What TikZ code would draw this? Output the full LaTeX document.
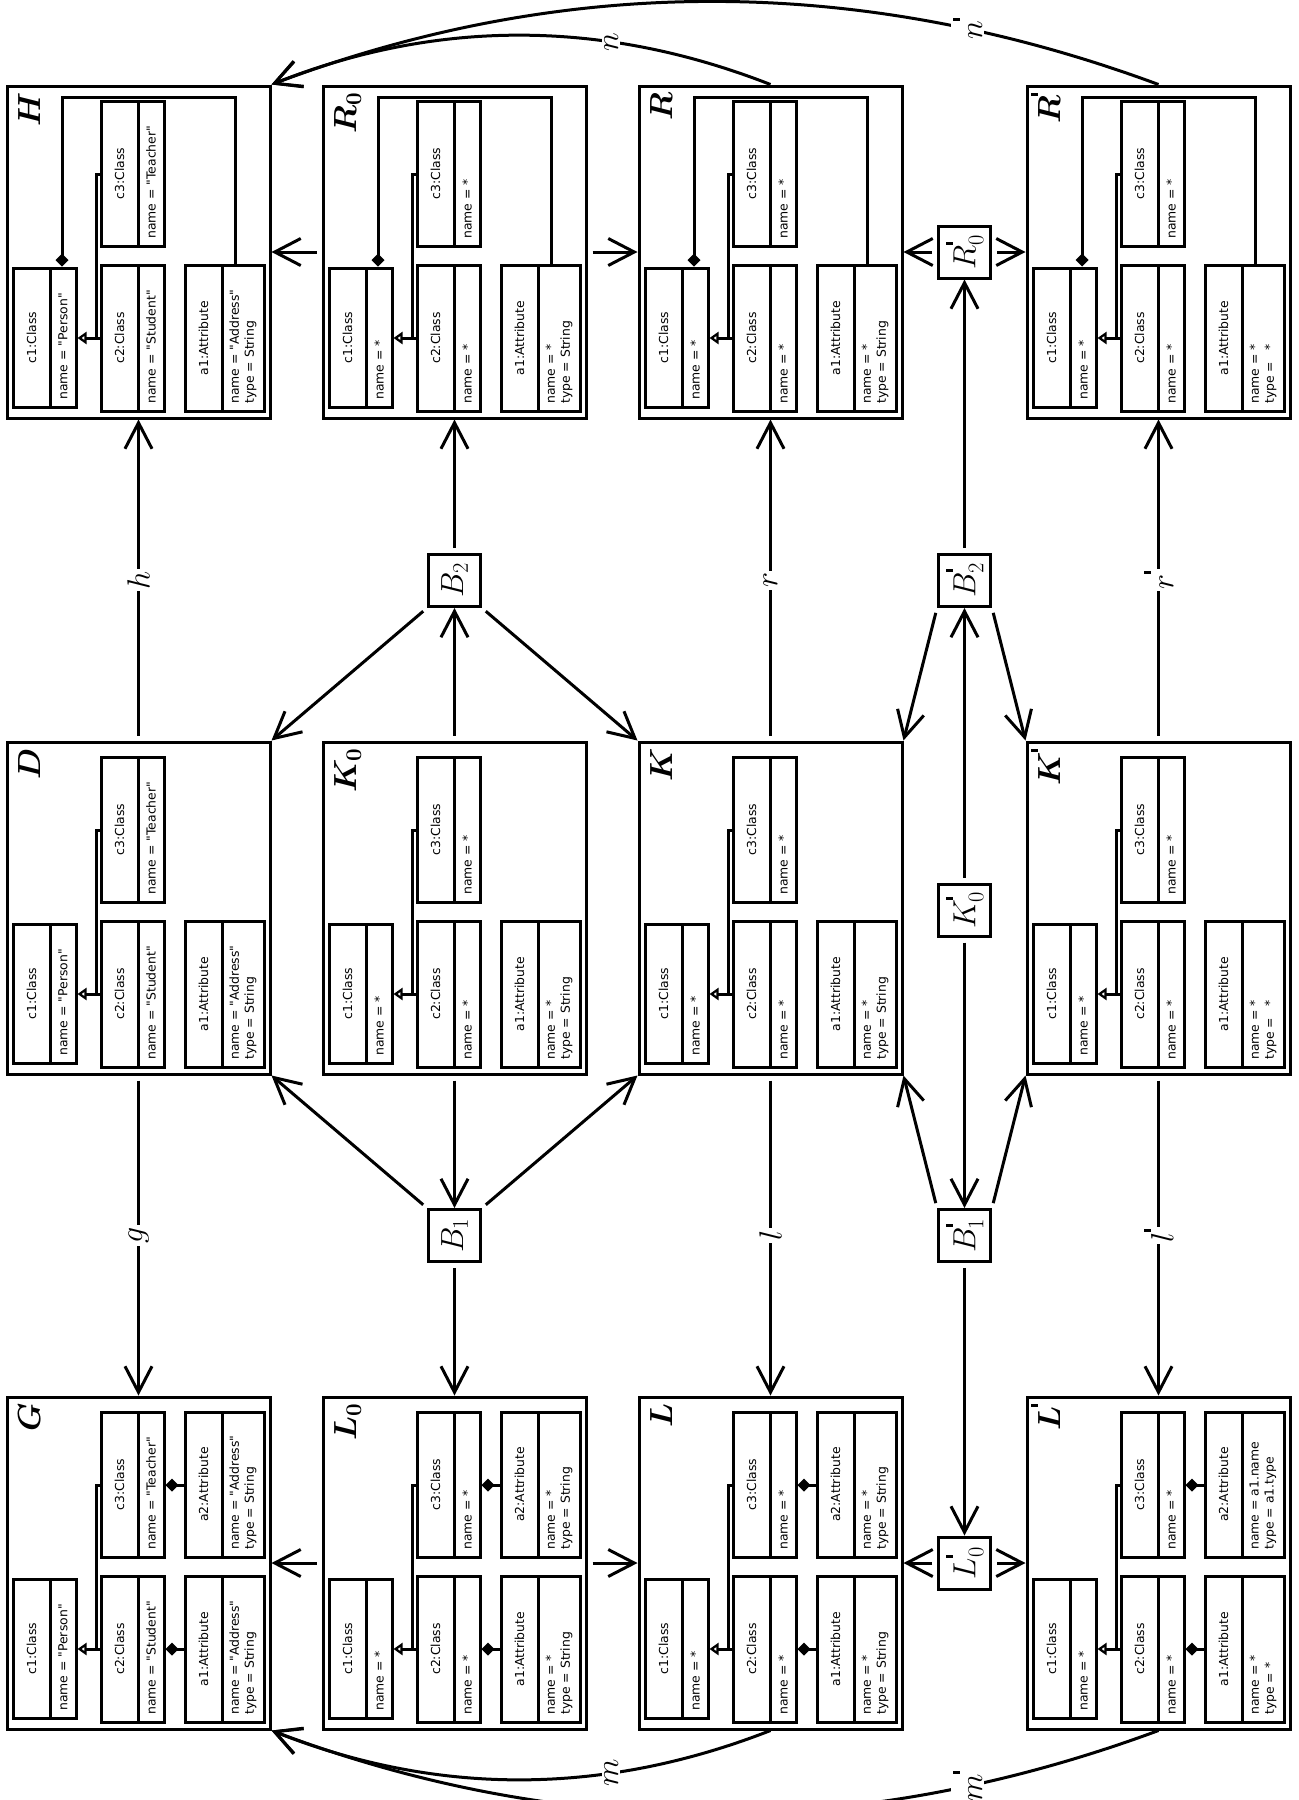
\RequirePackage{fix-cm}
\documentclass[tikz,border=0pt]{standalone}
\usepackage{amsmath}
\usepackage{bm}
\usepackage{graphicx}
\usepackage{fontspec}
\setsansfont{DejaVu Sans}[Ligatures=TeXOff]
\usetikzlibrary{arrows.meta}
\newcommand\pr{\rule[11pt]{3pt}{7pt}}
\newcommand\uclass[8]{%
  \draw[ubox] (#2,#5) rectangle (#4,#6) (#3,#5) -- (#3,#6);
  \node[utxt] (#1h) at ({(#2+#3)/2},{(#5+#6)/2}) {#7};
  \node[utxt,anchor=west,align=left] (#1b) at ({(#3+#4)/2},{#6-7}) {#8};}
\newcommand\gbox[8]{%
  \node[mainbox] (#1) at (#2+131.5,#3+166) {};
  \begin{scope}[shift={(#2,#3)}]
    \node[blabel] (#1-lab) at (11,6) {$#4$};
    \uclass{#1-c1}{6}{43}{69}{182}{321}{c1:Class}{#5}
    \uclass{#1-c2}{94}{131}{157}{179}{325}{c2:Class}{#6}
    \uclass{#1-c3}{94}{131}{157}{15}{160}{c3:Class}{#7}
    \uclass{#1-a1}{178}{215}{257}{179}{325}{a1:Attribute}{#8}
    \draw[ln] (94,88) -| (89,252);
    \draw[inh] (94,252) -- (70.5,252);
  \end{scope}}
\newcommand\topcomp[3]{%
  \begin{scope}[shift={(#2,#3)}]
    \draw[comp] (228,177.5) |- (55,11) -- (55,180.5);
  \end{scope}}
\newcommand\sidecomp[4]{%
  \begin{scope}[shift={(#2,#3)}]
    \uclass{#1-a2}{178}{215}{257}{15}{160}{a2:Attribute}{#4}
    \draw[comp] (176.5,252) -- (158.5,252);
    \draw[comp] (176.5,88) -- (158.5,88);
  \end{scope}}
\tikzset{
  mainbox/.style={draw, line width=3pt, minimum width=263pt, minimum height=332pt, inner sep=0pt},
  ubox/.style={line width=3pt},
  ln/.style={line width=3pt},
  utxt/.style={rotate=90, inner sep=0pt, font=\sffamily\fontsize{12.4}{15}\selectfont},
  blabel/.style={rotate=90, anchor=north east, inner sep=0pt, text height=22pt, font=\fontsize{32}{32}\selectfont},
  inh/.style={line width=3pt, -{Triangle[open, length=9pt, width=12pt]}},
  comp/.style={line width=3pt, -{Diamond[length=13pt, width=13pt]}},
  arr/.style={line width=3pt, -{Straight Barb[length=26pt, width=27pt]}, shorten <=5pt},
  bnode/.style={draw, line width=3pt, minimum size=52pt, inner sep=0pt, font=\fontsize{32}{32}\selectfont},
  elbl/.style={fill=white, rotate=90, inner sep=2pt, font=\fontsize{32}{32}\selectfont},
}
\begin{document}
\begin{tikzpicture}[x=1pt,y=-1pt]
\useasboundingbox (0,0) rectangle (1299,1800);
\fill[white] (0,0) rectangle (1299,1800);
\clip (0,0) rectangle (1299,1800);
% top row
\gbox{H}{7}{86}{\bm{H}}{name = "Person"}{name = "Student"}{name = "Teacher"}{name = "Address"\\type = String}
\topcomp{H}{7}{86}
\gbox{R0}{323}{86}{\bm{R}_{\bm{0}}}{name = *}{name = *}{name = *}{name = *\\type = String}
\topcomp{R0}{323}{86}
\gbox{R}{639}{86}{\bm{R}}{name = *}{name = *}{name = *}{name = *\\type = String}
\topcomp{R}{639}{86}
\gbox{Rp}{1027}{86}{\bm{R}^{\pr}}{name = *}{name = *}{name = *}{name = *\\type = \hspace{0.6em}*}
\topcomp{Rp}{1027}{86}
% middle row
\gbox{D}{7}{742}{\bm{D}}{name = "Person"}{name = "Student"}{name = "Teacher"}{name = "Address"\\type = String}
\gbox{K0}{323}{742}{\bm{K}_{\bm{0}}}{name = *}{name = *}{name = *}{name = *\\type = String}
\gbox{K}{639}{742}{\bm{K}}{name = *}{name = *}{name = *}{name = *\\type = String}
\gbox{Kp}{1027}{742}{\bm{K}^{\pr}}{name = *}{name = *}{name = *}{name = *\\type = \hspace{0.6em}*}
% bottom row
\gbox{G}{7}{1397}{\bm{G}}{name = "Person"}{name = "Student"}{name = "Teacher"}{name = "Address"\\type = String}
\sidecomp{G}{7}{1397}{name = "Address"\\type = String}
\gbox{L0}{323}{1397}{\bm{L}_{\bm{0}}}{name = *}{name = *}{name = *}{name = *\\type = String}
\sidecomp{L0}{323}{1397}{name = *\\type = String}
\gbox{L}{639}{1397}{\bm{L}}{name = *}{name = *}{name = *}{name = *\\type = String}
\sidecomp{L}{639}{1397}{name = *\\type = String}
\gbox{Lp}{1027}{1397}{\bm{L}^{\pr}}{name = *}{name = *}{name = *}{name = *\\type = *}
\sidecomp{Lp}{1027}{1397}{name = a1.name\\type = a1.type}
% small boxes
\node[bnode] (B2) at (454.5,580.5) {\rotatebox{90}{$B_2$}};
\node[bnode] (B1) at (454.5,1235.5) {\rotatebox{90}{$B_1$}};
\node[bnode] (Rp0) at (964.5,252) {\rotatebox{90}{$R^{\pr}_0$}};
\node[bnode] (Bp2) at (964.5,580.5) {\rotatebox{90}{$B^{\pr}_2$}};
\node[bnode] (Kp0) at (964.5,910) {\rotatebox{90}{$K^{\pr}_0$}};
\node[bnode] (Bp1) at (964.5,1235.5) {\rotatebox{90}{$B^{\pr}_1$}};
\node[bnode] (Lp0) at (964.5,1563) {\rotatebox{90}{$L^{\pr}_0$}};
% vertical connectors
\draw[arr] (D.north) -- node[elbl]{$h$} (H.south);
\draw[arr] (D.south) -- node[elbl]{$g$} (G.north);
\draw[arr] (K.north) -- node[elbl]{$r$} (R.south);
\draw[arr] (K.south) -- node[elbl]{$l$} (L.north);
\draw[arr] (Kp.north) -- node[elbl]{$r^{\pr}$} (Rp.south);
\draw[arr] (Kp.south) -- node[elbl]{$l^{\pr}$} (Lp.north);
\draw[arr] (K0.north) -- (B2.south);
\draw[arr] (B2.north) -- (R0.south);
\draw[arr] (K0.south) -- (B1.north);
\draw[arr] (B1.south) -- (L0.north);
\draw[arr] (B2.south west) -- (D.north east);
\draw[arr] (B2.south east) -- (K.north west);
\draw[arr] (B1.north west) -- (D.south east);
\draw[arr] (B1.north east) -- (K.south west);
\draw[arr] (Kp0.north) -- (Bp2.south);
\draw[arr] (Bp2.north) -- (Rp0.south);
\draw[arr] (Kp0.south) -- (Bp1.north);
\draw[arr] (Bp1.south) -- (Lp0.north);
\draw[arr] (Bp2.south west) -- (K.north east);
\draw[arr] (Bp2.south east) -- (Kp.north west);
\draw[arr] (Bp1.north west) -- (K.south east);
\draw[arr] (Bp1.north east) -- (Kp.south west);
% horizontal connectors
\draw[arr] (R0.west) -- (H.east);
\draw[arr] (R0.east) -- (R.west);
\draw[arr] (Rp0.west) -- (R.east);
\draw[arr] (Rp0.east) -- (Rp.west);
\draw[arr] (L0.west) -- (G.east);
\draw[arr] (L0.east) -- (L.west);
\draw[arr] (Lp0.west) -- (L.east);
\draw[arr] (Lp0.east) -- (Lp.west);
% arcs
\draw[arr, shorten <=0pt] (R.north) .. controls (603,19) and (437,19) .. (H.north east) node[elbl, pos=0.318]{$n$};
\draw[arr, shorten <=0pt] (Rp.north) .. controls (860,-26) and (565,-26) .. (H.north east) node[elbl, pos=0.214]{$n^{\pr}$};
\draw[arr, shorten <=0pt] (L.south) .. controls (603,1796) and (437,1796) .. (G.south east) node[elbl, pos=0.318]{$m$};
\draw[arr, shorten <=0pt] (Lp.south) .. controls (860,1841) and (565,1841) .. (G.south east) node[elbl, pos=0.214]{$m^{\pr}$};
\end{tikzpicture}
\end{document}
